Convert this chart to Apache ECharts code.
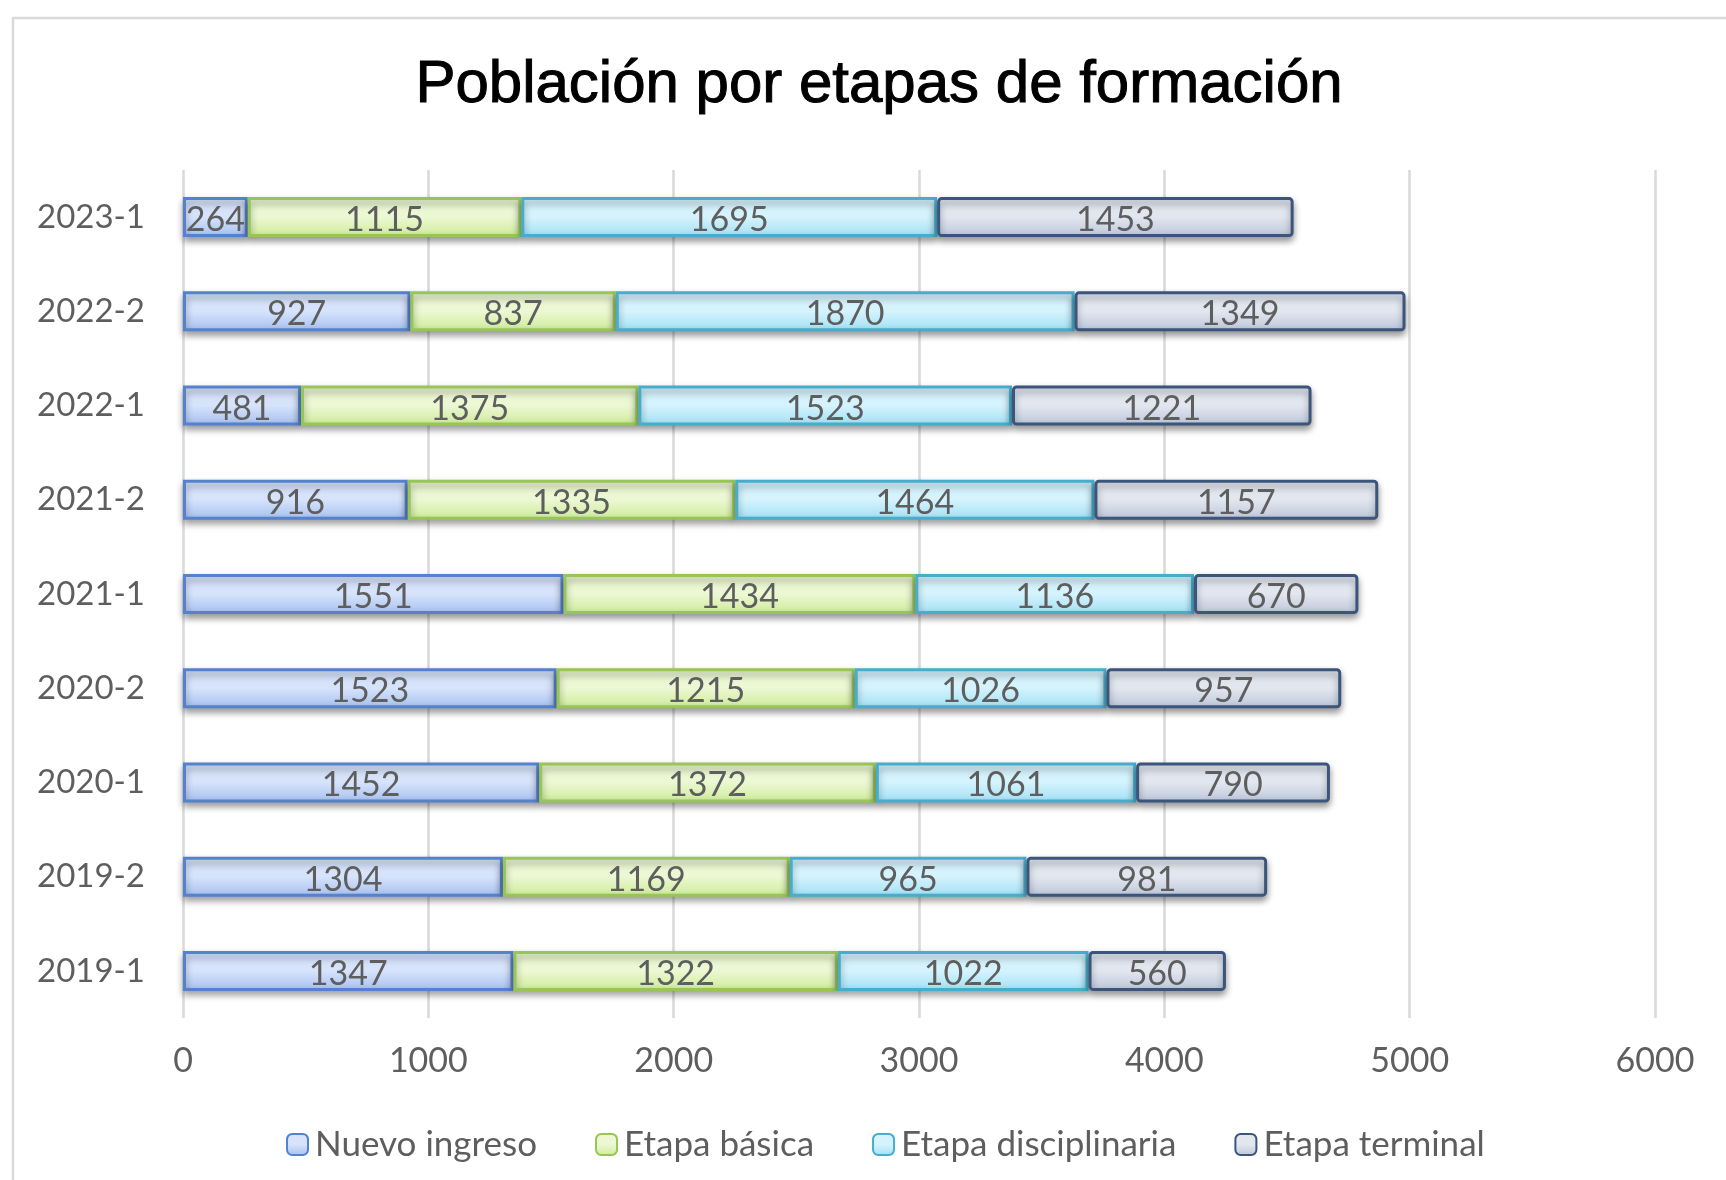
<!DOCTYPE html>
<html>
<head>
<meta charset="utf-8">
<script src="https://cdn.jsdelivr.net/npm/echarts@6/dist/echarts.min.js"></script>
<style>
  html, body { margin: 0; padding: 0; background: #ffffff; }
  #chart { width: 1726px; height: 1180px; }
</style>
</head>
<body>
<div id="chart"></div>
<script>
// Periods, bottom to top
const periods = ['2019-1', '2019-2', '2020-1', '2020-2', '2021-1', '2021-2', '2022-1', '2022-2', '2023-1'];

// Students per training stage, one value per period
const nuevoIngreso       = [1347, 1304, 1452, 1523, 1551, 916, 481, 927, 264];
const etapaBasica        = [1322, 1169, 1372, 1215, 1434, 1335, 1375, 837, 1115];
const etapaDisciplinaria = [1022, 965, 1061, 1026, 1136, 1464, 1523, 1870, 1695];
const etapaTerminal      = [560, 981, 790, 957, 670, 1157, 1221, 1349, 1453];

const stageNames = ['Nuevo ingreso', 'Etapa básica', 'Etapa disciplinaria', 'Etapa terminal'];

// Axis ticks
const xTicks = [0, 1000, 2000, 3000, 4000, 5000, 6000];

const FONT = 'Lato, "Open Sans", sans-serif';
const TEXT_GRAY = '#5e5e5e';

const palettes = [
  { top: '#d6e3fb', bottom: '#a6c0f0', border: '#5582cf' },
  { top: '#ecf8d3', bottom: '#cdeb98', border: '#98c656' },
  { top: '#d5f3fd', bottom: '#a0e0f5', border: '#47adcc' },
  { top: '#e2e6ef', bottom: '#bcc6d9', border: '#3b557c' }
];

function grad(p) {
  return new echarts.graphic.LinearGradient(0, 0, 0, 1, [
    { offset: 0, color: p.top },
    { offset: 0.5, color: p.top },
    { offset: 1, color: p.bottom }
  ]);
}

const values = [nuevoIngreso, etapaBasica, etapaDisciplinaria, etapaTerminal];

const series = stageNames.map((name, i) => ({
  name: name,
  type: 'bar',
  stack: 'total',
  barWidth: 40,
  data: values[i],
  itemStyle: {
    color: grad(palettes[i]),
    borderColor: palettes[i].border,
    borderWidth: 3,
    borderRadius: i === 3 ? 3 : 0,
    shadowColor: 'rgba(0,0,0,0.4)',
    shadowBlur: 7,
    shadowOffsetY: 4
  },
  label: {
    show: true,
    position: 'inside',
    color: TEXT_GRAY,
    fontFamily: FONT,
    fontSize: 34,
    offset: [0, 3]
  },
  emphasis: { disabled: true }
}));

const chart = echarts.init(document.getElementById('chart'), null, { renderer: 'canvas' });

chart.setOption({
  animation: false,
  backgroundColor: '#ffffff',
  graphic: [
    {
      type: 'rect',
      shape: { x: 13, y: 18, width: 1760, height: 1200 },
      style: { fill: 'none', stroke: '#d9d9d9', lineWidth: 2.5 },
      z: -10
    }
  ],
  title: {
    text: 'Población por etapas de formación',
    left: 874,
    textAlign: 'center',
    top: 50,
    textStyle: {
      fontFamily: '"Liberation Sans", Arial, sans-serif',
      fontSize: 60,
      fontWeight: 'normal',
      color: '#000000',
      textBorderColor: '#000000',
      textBorderWidth: 1
    }
  },
  legend: {
    data: stageNames,
    left: 281,
    top: 1122,
    itemWidth: 21,
    itemHeight: 21,
    itemGap: 58,
    textStyle: {
      fontFamily: FONT,
      fontSize: 35,
      color: TEXT_GRAY,
      padding: [0, 0, 0, 2]
    }
  },
  grid: {
    left: 183,
    right: 71,
    top: 170,
    height: 848,
    containLabel: false
  },
  xAxis: {
    type: 'value',
    min: xTicks[0],
    max: xTicks[xTicks.length - 1],
    interval: 1000,
    axisLine: { show: false },
    axisTick: { show: false },
    splitLine: { show: true, lineStyle: { color: '#d9d9d9', width: 2.5 } },
    axisLabel: {
      fontFamily: FONT,
      fontSize: 34,
      color: TEXT_GRAY,
      margin: 26,
      formatter: v => String(v)
    }
  },
  yAxis: {
    type: 'category',
    data: periods,
    axisLine: { show: false },
    axisTick: { show: false },
    axisLabel: {
      fontFamily: FONT,
      fontSize: 33,
      color: TEXT_GRAY,
      margin: 38
    }
  },
  series: series
});
</script>
</body>
</html>
